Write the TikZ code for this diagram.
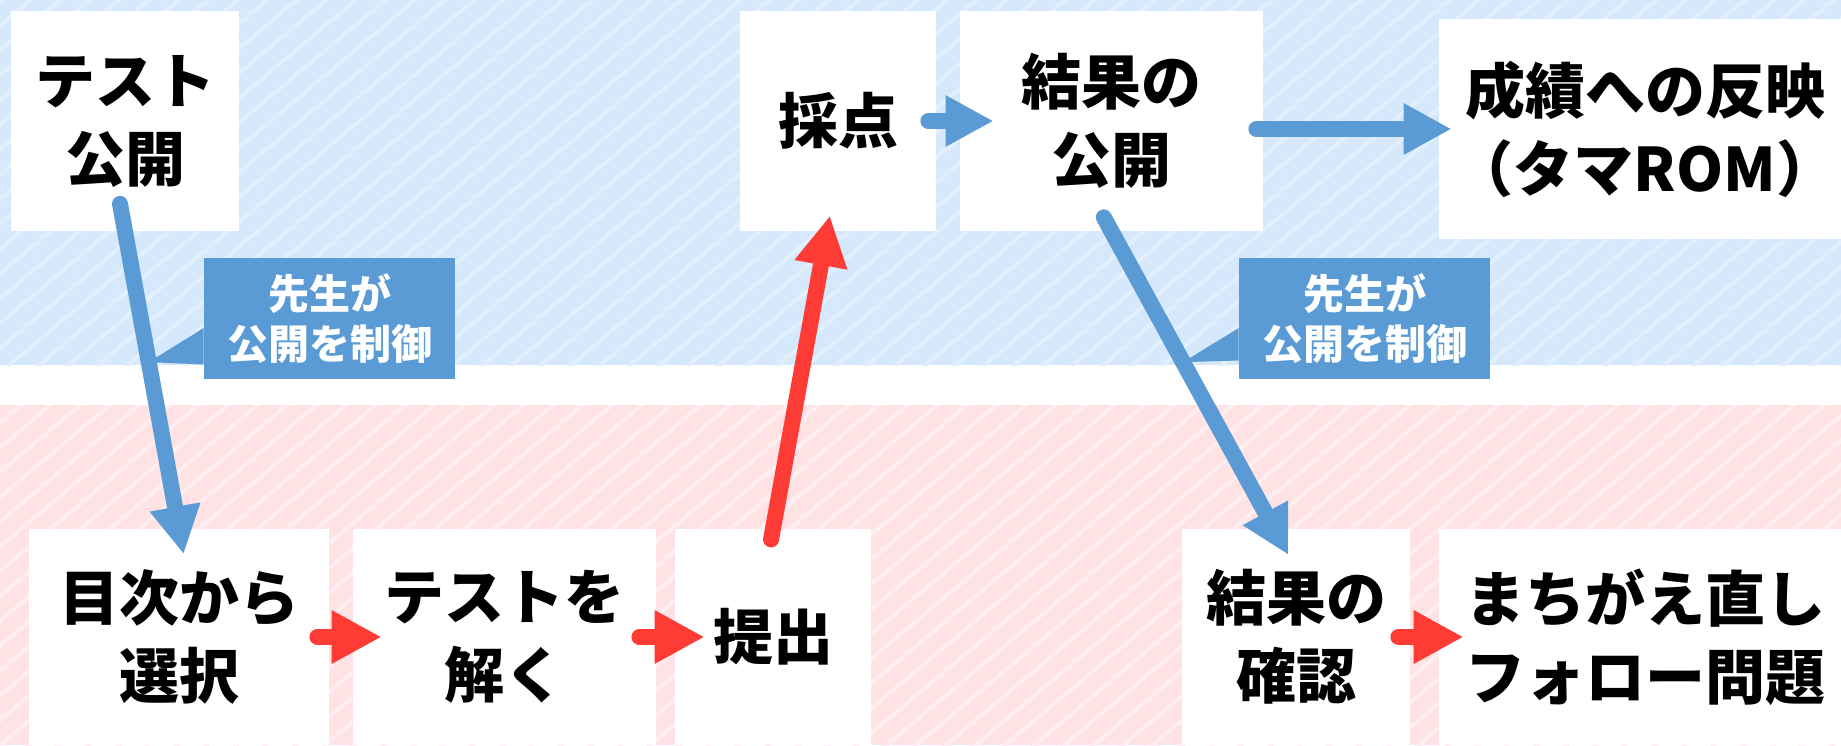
\documentclass[tikz,border=0pt]{standalone}
\usepackage{fontspec}
\newfontfamily\jp{Noto Sans CJK JP}
\usetikzlibrary{arrows.meta,patterns.meta,calc}
\definecolor{bgblue}{HTML}{D5E8FC}
\definecolor{stblue}{HTML}{E2F0FD}
\definecolor{bgpink}{HTML}{FFE3E4}
\definecolor{stpink}{HTML}{FFEEEF}
\definecolor{ablue}{HTML}{5B9BD5}
\definecolor{ared}{HTML}{FF3B36}
\tikzset{%
    box/.style={rectangle, fill=white, inner sep=0pt, align=center, font=\jp\bfseries\fontsize{30pt}{39pt}\selectfont},
    tag/.style={rectangle, fill=ablue, text=white, inner sep=0pt, minimum width=125.5pt, minimum height=60.5pt, align=center, font=\jp\bfseries\fontsize{20.5pt}{25pt}\selectfont},
    bla/.style={line width=8pt, line cap=round, ablue, -{Triangle[length=24pt,width=24pt]}},
    rea/.style={line width=8pt, line cap=round, ared, -{Triangle[length=25pt,width=25pt]}},
    stripe/.style={pattern={Lines[angle=40,distance=9.5pt,line width=2pt]}},
}

\begin{document}
\begin{tikzpicture}[x=0.5pt,y=-0.5pt]
    \useasboundingbox (0,0) rectangle (1841,745);
    \clip (0,0) rectangle (1841,745);
    \fill[white] (0,0) rectangle (1841,745);
    % bands
    \fill[bgblue] (0,0) rectangle (1841,365);
    \path[stripe, pattern color=stblue] (0,0) rectangle (1841,365);
    \fill[bgpink] (0,405) rectangle (1841,745);
    \path[stripe, pattern color=stpink] (0,405) rectangle (1841,745);
    % teacher side
    \node[box, minimum width=114pt, minimum height=110pt] (test) at (125,121) {テスト\\公開};
    \node[box, minimum width=98pt, minimum height=110pt] (saiten) at (838,121) {採点};
    \node[box, minimum width=151.5pt, minimum height=110pt] (kekka) at (1111.5,121) {結果の\\公開};
    \node[box, minimum width=206pt, minimum height=110pt] (seiseki) at (1645,129) {成績への反映\\（タマROM）};
    % student side
    \node[box, minimum width=150pt, minimum height=108pt] (mokuji) at (179,637) {目次から\\選択};
    \node[box, minimum width=151.5pt, minimum height=108pt] (toku) at (504.5,637) {テストを\\解く};
    \node[box, minimum width=98pt, minimum height=108pt] (teishutsu) at (773,637) {提出};
    \node[box, minimum width=114pt, minimum height=108pt] (kakunin) at (1296,637) {結果の\\確認};
    \node[box, minimum width=206pt, minimum height=108pt] (naoshi) at (1645,637) {まちがえ直し\\フォロー問題};
    % callouts
    \node[tag] (ctl1) at (329.5,318.5) {先生が\\公開を制御};
    \node[tag] (ctl2) at (1364.5,318.5) {先生が\\公開を制御};
    \coordinate (t1) at ($(test.south)!0.44!(mokuji.north)$);
    \coordinate (t2) at ($(kekka.south)!0.44!([xshift=-11pt]kakunin.north)$);
    \fill[ablue] ([yshift=-4.75pt]ctl1.west) -- (t1) -- ([yshift=-23pt]ctl1.west) -- cycle;
    \fill[ablue] ([yshift=-4.75pt]ctl2.west) -- (t2) -- ([yshift=-21pt]ctl2.west) -- cycle;
    % arrows
    \draw[bla, shorten <=-14pt, shorten >=-13pt] (test.south) -- (mokuji.north);
    \draw[rea, shorten <=-5.5pt, shorten >=-8pt] (teishutsu.north) -- ([xshift=-5.5pt]saiten.south);
    \draw[bla, shorten <=-8pt, shorten >=-15pt] (kekka.south) -- ([xshift=-11pt]kakunin.north);
    \draw[bla, shorten <=-4pt, shorten >=-17pt] (saiten.east) -- (kekka.west);
    \draw[bla, shorten <=-3.5pt, shorten >=-6.5pt] (kekka.east |- seiseki.west) -- (seiseki.west);
    \draw[rea, shorten <=-6pt, shorten >=-14.5pt] (mokuji.east) -- (toku.west);
    \draw[rea, shorten <=-8.5pt, shorten >=-15pt] (toku.east) -- (teishutsu.west);
    \draw[rea, shorten <=-6pt, shorten >=-12.5pt] (kakunin.east) -- (naoshi.west);
\end{tikzpicture}
\end{document}
